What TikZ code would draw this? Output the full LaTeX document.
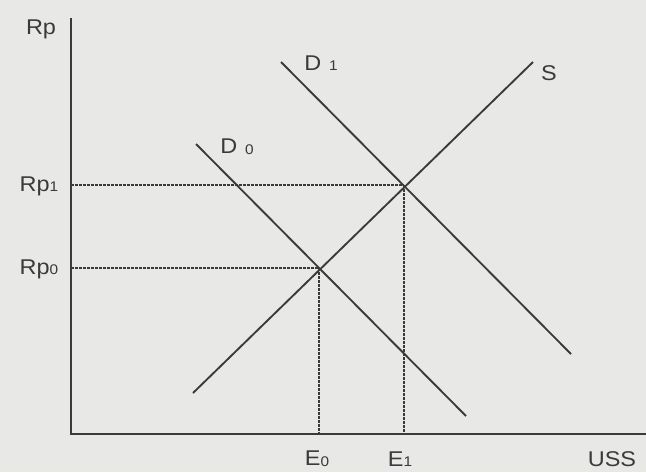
\documentclass[tikz,border=0pt]{standalone}
\usepackage{fontspec}
\setmainfont{Liberation Sans}
\usetikzlibrary{calc}
\definecolor{bg}{HTML}{E8E8E6}
\definecolor{ink}{HTML}{3A3A3A}
\tikzset{
  axis/.style={draw=ink, line width=1.6pt},
  curve/.style={draw=ink, line width=1.4pt},
  guide/.style={draw=ink, line width=0.8pt, dash pattern=on 2pt off 1pt},
  lbl/.style={text=ink, font=\fontsize{16}{16}\selectfont, inner sep=0pt, xscale=1.1},
}
\newcommand{\sm}[1]{\raisebox{-0.5pt}{\fontsize{10.5}{10.5}\selectfont #1}}
\begin{document}
\begin{tikzpicture}[x=0.75pt,y=-0.75pt]
\fill[bg] (0,0) rectangle (646,472);
\useasboundingbox (0,0) rectangle (646,472);
% coordinates
\coordinate (O) at (71,434);
\coordinate (Ytop) at (71,18);
\coordinate (Xend) at (646,434);
\coordinate (P1) at (404,185);
\coordinate (P0) at (319,268);
\coordinate (Ya1) at (71,185);
\coordinate (Ya0) at (71,268);
\coordinate (Xa0) at (319,434);
\coordinate (Xa1) at (404,434);
\coordinate (S1) at (193,393);
\coordinate (S2) at (533,62);
\coordinate (D0a) at (196,144);
\coordinate (D0b) at (466,416);
\coordinate (D1a) at (281,62);
\coordinate (D1b) at (571,354);
% guides
\draw[guide] (Ya1) -- (P1);
\draw[guide] (Ya0) -- (P0);
\draw[guide] (P0) -- (Xa0);
\draw[guide] (P1) -- (Xa1);
% curves
\draw[curve] (S1) -- (S2);
\draw[curve] (D0a) -- (D0b);
\draw[curve] (D1a) -- (D1b);
% axes
\draw[axis] (Ytop) -- (O) -- (Xend);
% labels
\node[lbl] (lRp) at (41,29) {Rp};
\node[lbl] (lRp1) at (39,186) {Rp\sm{1}};
\node[lbl] (lRp0) at (39,269) {Rp\sm{0}};
\node[lbl] (lD1) at (321,63) {D\,\,\sm{1}};
\node[lbl] (lD0) at (237,147) {D\,\,\sm{0}};
\node[lbl] (lS) at (549,73) {S};
\node[lbl] (lE0) at (317,459) {E\sm{0}};
\node[lbl] (lE1) at (400,459) {E\sm{1}};
\node[lbl] (lUSS) at (612,459) {USS};
\end{tikzpicture}
\end{document}
